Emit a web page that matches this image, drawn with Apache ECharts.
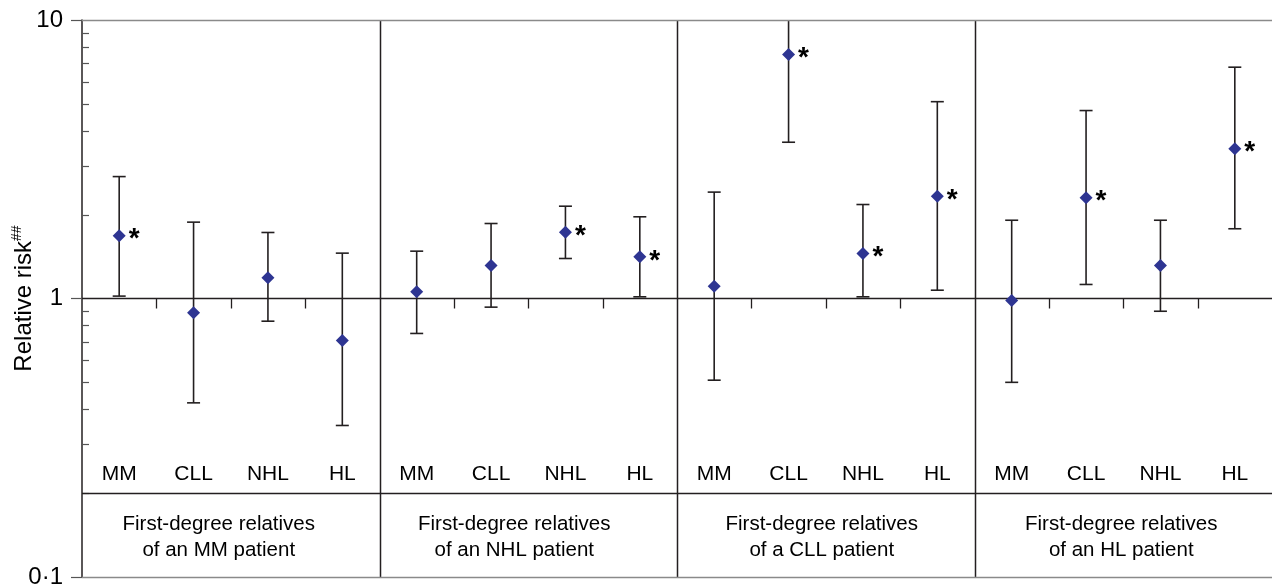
<!DOCTYPE html>
<html>
<head>
<meta charset="utf-8">
<script src="https://cdn.jsdelivr.net/npm/echarts@6/dist/echarts.min.js"></script>
<style>html,body{margin:0;padding:0;background:#fff;}#c{width:1273px;height:588px;}</style>
</head>
<body>
<div id="c"></div>
<script>
const categories = ['MM','CLL','NHL','HL','MM','CLL','NHL','HL','MM','CLL','NHL','HL','MM','CLL','NHL','HL'];
const groups = ['First-degree relatives\nof an MM patient','First-degree relatives\nof an NHL patient','First-degree relatives\nof a CLL patient','First-degree relatives\nof an HL patient'];
const estimate = [1.68,0.888,1.187,0.707, 1.057,1.314,1.73,1.411, 1.107,7.52,1.45,2.33, 0.984,2.30,1.314,3.45];
const lower    = [1.02,0.422,0.829,0.35, 0.749,0.931,1.392,1.014, 0.509,3.64,1.014,1.071, 0.50,1.123,0.90,1.78];
const upper    = [2.74,1.88,1.726,1.455, 1.479,1.859,2.145,1.965, 2.41,11,2.175,5.09, 1.91,4.73,1.91,6.77];
const significant = [1,0,0,0, 0,0,1,1, 0,1,1,1, 0,1,0,1];
const yTickLabels = {'0.1':'0·1','1':'1','10':'10'};
const minorTicks = [2,3,4,5,6,7,8,9,0.2,0.3,0.4,0.5,0.6,0.7,0.8,0.9];
const groupShift = [24,28,8,4];

const FONT = '"Liberation Sans", Arial, Helvetica, sans-serif';
const chart = echarts.init(document.getElementById('c'));
const ink = '#231f20';

chart.setOption({
  animation: false,
  grid: {left: 82, right: 1, top: 20, bottom: 11, containLabel: false, outerBoundsMode: 'none'},
  xAxis: [{
    type: 'category', data: categories, position: 'bottom', offset: -121,
    axisLine: {show: false}, axisTick: {show: false}, splitLine: {show: false},
    axisLabel: {interval: 0, fontSize: 21, color: '#000', fontFamily: FONT, margin: 8}
  }, {
    type: 'category', position: 'bottom', offset: -73,
    data: groups.map((g, i) => ({value: g, textStyle: {padding: [0, groupShift[i], 0, 0]}})),
    axisLine: {show: false}, axisTick: {show: false}, splitLine: {show: false},
    axisLabel: {interval: 0, fontSize: 20.5, lineHeight: 25.5, color: '#000', fontFamily: FONT, margin: 8}
  }],
  yAxis: {
    type: 'log', logBase: 10, min: 0.1, max: 10,
    name: 'Relative risk{sup|##}', nameLocation: 'middle', nameRotate: 90, nameGap: 44,
    nameMoveOverlap: false,
    nameTextStyle: {fontSize: 24, color: '#000', fontFamily: FONT, lineHeight: 28,
      rich: {sup: {fontSize: 14, fontFamily: FONT, color: '#000', verticalAlign: 'top', lineHeight: 14}}},
    axisLine: {show: true, lineStyle: {color: ink, width: 1.5}},
    axisTick: {show: true, length: 11, lineStyle: {color: '#555', width: 1.2}},
    splitLine: {show: false},
    axisLabel: {fontSize: 24, color: '#000', fontFamily: FONT, margin: 19,
      formatter: v => yTickLabels[String(+v.toPrecision(3))] || ''}
  },
  series: [{
    type: 'custom', name: 'frame', xAxisIndex: 0, z: 1, silent: true,
    data: categories.map((c, i) => [i, 1]).slice(1),
    renderItem: (params, api) => {
      const i = api.value(0);
      const bw = api.size([1, 1])[0];
      const p = api.coord([i, 1]);
      const x = Math.round(p[0] - bw / 2) + 0.5;
      const cs = params.coordSys;
      if (i % 4 === 0) {
        return {type: 'line', shape: {x1: x, y1: cs.y, x2: x, y2: cs.y + cs.height},
          style: {stroke: ink, lineWidth: 1.5}};
      }
      return {type: 'line', shape: {x1: x, y1: p[1], x2: x, y2: p[1] + 10},
        style: {stroke: ink, lineWidth: 1.3}};
    }
  }, {
    type: 'custom', name: 'minor', xAxisIndex: 0, z: 1, silent: true,
    data: minorTicks.map(v => [0, v]),
    renderItem: (params, api) => {
      const p = api.coord([0, api.value(1)]);
      const x = params.coordSys.x;
      const y = Math.round(p[1]) + 0.5;
      return {type: 'line', shape: {x1: x, y1: y, x2: x + 7, y2: y},
        style: {stroke: '#555', lineWidth: 1.2}};
    }
  }, {
    type: 'custom', name: 'ci', xAxisIndex: 0, z: 3, clip: true, silent: true,
    data: categories.map((c, i) => [i, lower[i], upper[i]]),
    renderItem: (params, api) => {
      const i = api.value(0);
      const lo = api.coord([i, api.value(1)]);
      const hi = api.coord([i, api.value(2)]);
      const hw = 6.5;
      const st = {stroke: ink, lineWidth: 1.6};
      return {type: 'group', children: [
        {type: 'line', shape: {x1: lo[0], y1: lo[1], x2: hi[0], y2: hi[1]}, style: st},
        {type: 'line', shape: {x1: lo[0] - hw, y1: lo[1], x2: lo[0] + hw, y2: lo[1]}, style: st},
        {type: 'line', shape: {x1: hi[0] - hw, y1: hi[1], x2: hi[0] + hw, y2: hi[1]}, style: st}
      ]};
    }
  }, {
    type: 'scatter', name: 'RR', xAxisIndex: 0, z: 5,
    symbol: 'diamond', symbolSize: 13,
    itemStyle: {color: '#2e3592', opacity: 1},
    data: categories.map((c, i) => [i, estimate[i], significant[i]]),
    label: {show: true, position: 'right', distance: 3, offset: [0, 4],
      fontSize: 28, fontWeight: 'bold', color: '#000', fontFamily: FONT,
      formatter: p => p.value[2] ? '*' : ''},
    markLine: {
      silent: true, symbol: 'none', label: {show: false},
      data: [
        {yAxis: 1, lineStyle: {color: ink, width: 1.3, type: 'solid'}},
        {yAxis: 0.2, lineStyle: {color: ink, width: 1.3, type: 'solid'}},
        {yAxis: 10, lineStyle: {color: '#8a8a8a', width: 1.3, type: 'solid'}},
        {yAxis: 0.1, lineStyle: {color: '#8a8a8a', width: 1.3, type: 'solid'}}
      ]
    }
  }]
});
</script>
</body>
</html>
